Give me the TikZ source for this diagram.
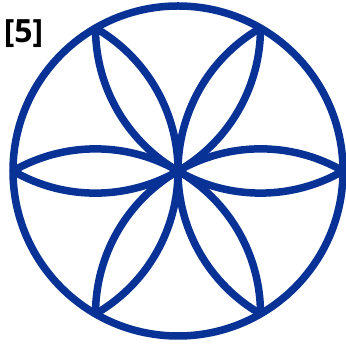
\documentclass[tikz,border=0pt]{standalone}
\usepackage{fontspec}
\setmainfont{Open Sans}
\definecolor{petal}{RGB}{8,50,150}
\begin{document}
\begin{tikzpicture}[x=1pt,y=1pt,
  line/.style={draw=petal,line width=7.5pt},
  lbl/.style={font=\bfseries\fontsize{32}{36}\selectfont,text=black,inner sep=0pt}]
\useasboundingbox[fill=white] (0,0) rectangle (346,344);
\def\R{165}
\coordinate (O) at (178,173);
\draw[line] (O) circle[radius=\R];
\foreach \k in {0,60,120,180,240,300}{
  \draw[line] (O) ++(\k:\R) ++(\k+120:\R) arc[start angle=\k+120,end angle=\k+240,radius=\R];
}
\node[lbl] (label) at (23.5,310) {[5]};
\end{tikzpicture}
\end{document}
